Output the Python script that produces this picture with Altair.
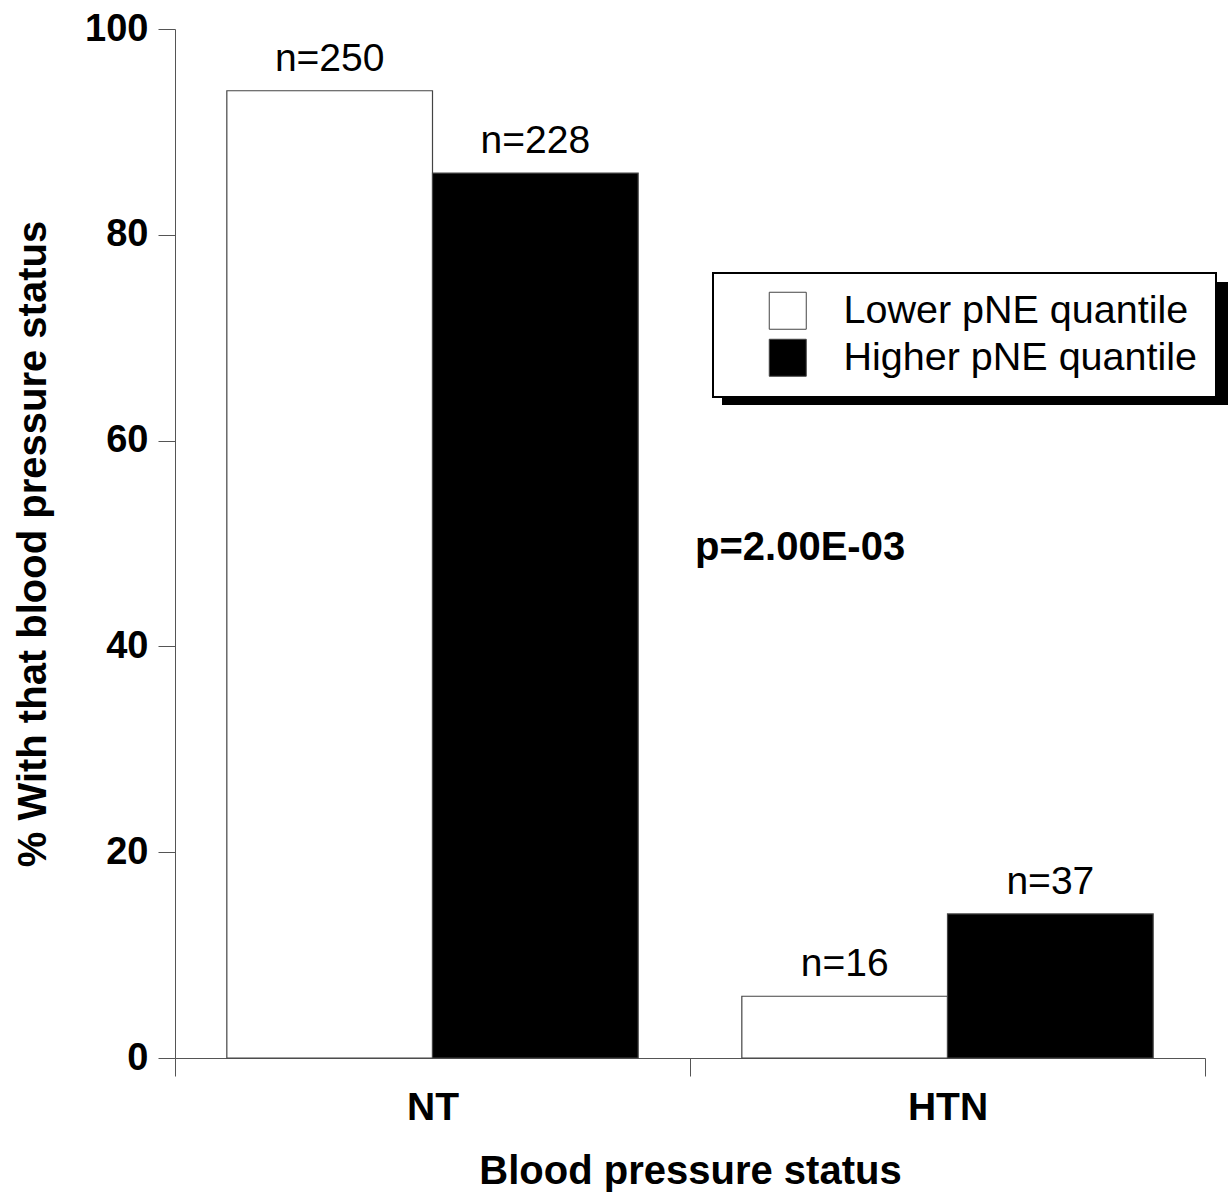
import altair as alt
import pandas as pd

# Share of each pNE quantile group by blood pressure status
statuses = ["NT", "NT", "HTN", "HTN"]
quantiles = ["Lower pNE quantile", "Higher pNE quantile",
             "Lower pNE quantile", "Higher pNE quantile"]
percent = [94.0, 86.0, 6.0, 14.0]
counts = [250, 228, 16, 37]

status_order = ["NT", "HTN"]
quantile_order = ["Lower pNE quantile", "Higher pNE quantile"]
y_ticks = [0, 20, 40, 60, 80, 100]

p_label = ["p=2.00E-03"]
p_status = ["HTN"]
p_height = [49.6]

FONT = "Liberation Sans"
AXIS_GRAY = "#555555"

df = pd.DataFrame({
    "status": statuses,
    "quantile": quantiles,
    "percent": percent,
    "label": ["n=%d" % c for c in counts],
})
p_df = pd.DataFrame({"status": p_status, "percent": p_height, "text": p_label})

x_enc = alt.X(
    "status:N",
    sort=status_order,
    scale=alt.Scale(domain=status_order, paddingInner=0, paddingOuter=0),
    axis=alt.Axis(
        title="Blood pressure status",
        labelAngle=0,
        tickBand="extent",
        tickSize=18,
        labelPadding=12,
        labelFontSize=39,
        labelFontWeight="bold",
        titleFontSize=40,
        titleFontWeight="bold",
        titlePadding=24,
    ),
)
xoff_enc = alt.XOffset(
    "quantile:N",
    sort=quantile_order,
    scale=alt.Scale(domain=quantile_order, paddingInner=0, paddingOuter=0.252),
)
y_enc = alt.Y(
    "percent:Q",
    scale=alt.Scale(domain=[0, 100], nice=False),
    axis=alt.Axis(
        title="% With that blood pressure status",
        values=y_ticks,
        tickSize=17,
        labelPadding=10,
        labelFontSize=38,
        labelFontWeight="bold",
        titleFontSize=40,
        titleFontWeight="bold",
        titlePadding=31,
    ),
)

bars = alt.Chart(df).mark_bar(stroke="#444444", strokeWidth=1.2).encode(
    x=x_enc,
    xOffset=xoff_enc,
    y=y_enc,
    fill=alt.Fill(
        "quantile:N",
        sort=quantile_order,
        scale=alt.Scale(domain=quantile_order, range=["white", "black"]),
        legend=alt.Legend(
            title=None,
            orient="none",
            legendX=538,
            legendY=244,
            fillColor="white",
            strokeColor="black",
            padding=18,
            symbolType="square",
            symbolSize=1369,
            symbolStrokeColor="#444444",
            symbolStrokeWidth=1,
            symbolOffset=37,
            labelOffset=36,
            labelFontSize=39.5,
            labelFont=FONT,
            labelLimit=600,
            rowPadding=5,
        ),
    ),
)

count_labels = alt.Chart(df).mark_text(
    baseline="alphabetic", dy=-20, fontSize=39, font=FONT, color="black"
).encode(x=x_enc, xOffset=xoff_enc, y=y_enc, text="label:N")

p_text = alt.Chart(p_df).mark_text(
    align="left", baseline="middle", dx=5, fontSize=40, fontWeight="bold",
    font=FONT, color="black"
).encode(
    x=alt.X("status:N", bandPosition=0, sort=status_order),
    y=alt.Y("percent:Q"),
    text="text:N",
)

# drop shadow behind the legend box
shadow = alt.Chart(pd.DataFrame({"k": [0]})).mark_rect(color="black").encode(
    x=alt.value(547), x2=alt.value(1053), y=alt.value(253), y2=alt.value(376)
)

chart = alt.layer(shadow, bars, count_labels, p_text).properties(
    width=1030,
    height=1029,
    autosize=alt.AutoSizeParams(type="none"),
    padding={"left": 175, "top": 29, "right": 25, "bottom": 135},
    background="white",
).configure_view(stroke=None).configure_axis(
    labelFont=FONT,
    titleFont=FONT,
    labelColor="black",
    titleColor="black",
    domainColor=AXIS_GRAY,
    tickColor=AXIS_GRAY,
    domainWidth=1,
    tickWidth=1,
    grid=False,
).configure_legend(strokeWidth=2)

chart.save("out.html", embed_options={"renderer": "svg", "actions": False})
